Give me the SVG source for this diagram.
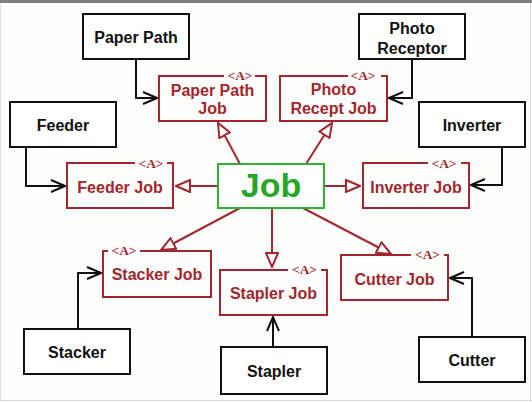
<svg xmlns="http://www.w3.org/2000/svg" width="532" height="402" viewBox="0 0 532 402">
  <style>
    .dev rect { fill: #ffffff; stroke: #111111; stroke-width: 2; }
    .dev text { fill: #111111; font: bold 16px "Liberation Sans", Arial, sans-serif; text-anchor: middle; }
    .job path { fill: none; stroke: #a3262f; stroke-width: 2; }
    .job text { fill: #a3262f; font: bold 16px "Liberation Sans", Arial, sans-serif; text-anchor: middle; }
    .job text.abs { font: bold 12px "Liberation Serif", "Times New Roman", serif; }
    .gen { fill: none; stroke: #a3262f; stroke-width: 2; marker-end: url(#tri); }
    .use { fill: none; stroke: #111111; stroke-width: 2; marker-end: url(#open); }
  </style>
  <defs>
    <marker id="tri" markerUnits="userSpaceOnUse" viewBox="0 0 16 14" refX="15" refY="7" markerWidth="16" markerHeight="14" orient="auto">
      <path d="M1,1 L15,7 L1,13 Z" fill="#ffffff" stroke="#a3262f" stroke-width="2" stroke-linejoin="miter"/>
    </marker>
    <marker id="open" markerUnits="userSpaceOnUse" viewBox="0 0 16 14" refX="15" refY="7" markerWidth="16" markerHeight="14" orient="auto">
      <path d="M1,1 L15,7 L1,13" fill="none" stroke="#111111" stroke-width="2"/>
    </marker>
  </defs>

  <!-- page -->
  <rect x="0" y="0" width="532" height="402" fill="#fefefc"/>
  <rect x="0" y="0" width="532" height="3" fill="#7f7f7f"/>
  <line x1="530.5" y1="3" x2="530.5" y2="402" stroke="#d8d8d8" stroke-width="1"/>
  <line x1="0" y1="400.5" x2="532" y2="400.5" stroke="#d8d8d8" stroke-width="1"/>
  <line x1="0.5" y1="3" x2="0.5" y2="402" stroke="#ecdede" stroke-width="1"/>

  <!-- connectors -->
  <g id="connectors">
    <path class="gen" d="M240,164 L218,123"/>
    <path class="gen" d="M306,164 L332,123"/>
    <path class="gen" d="M218,186 L176,186"/>
    <path class="gen" d="M324,186 L360,186"/>
    <path class="gen" d="M240,208 L161,250"/>
    <path class="gen" d="M272,208 L272,267"/>
    <path class="gen" d="M303,208 L391,254"/>

    <path class="use" d="M136,59 V98 H157"/>
    <path class="use" d="M26,147 V186 H65"/>
    <path class="use" d="M412,59 V98 H389"/>
    <path class="use" d="M502,147 V185 H471"/>
    <path class="use" d="M78,329 V273 H101"/>
    <path class="use" d="M273,347 V317"/>
    <path class="use" d="M472,337 V278 H450"/>
  </g>

  <!-- central job -->
  <g id="job">
    <rect x="218" y="164" width="106" height="44" fill="#ffffff" stroke="#2fb22f" stroke-width="2"/>
    <text x="271" y="197" fill="#25a825" font-family="Liberation Sans, Arial, sans-serif" font-weight="bold" font-size="34" text-anchor="middle">Job</text>
  </g>

  <!-- abstract job classes -->
  <g id="paper-path-job" class="job">
    <path d="M255,76 H266 V121 H159 V76 H224"/>
    <text class="abs" x="240" y="80" textLength="25" lengthAdjust="spacingAndGlyphs">&lt;A&gt;</text>
    <text x="212.5" y="96">Paper Path</text>
    <text x="212.5" y="114">Job</text>
  </g>
  <g id="photo-recept-job" class="job">
    <path d="M381,76 H387 V121 H280 V76 H348"/>
    <text class="abs" x="363" y="80" textLength="25" lengthAdjust="spacingAndGlyphs">&lt;A&gt;</text>
    <text x="333.5" y="95">Photo</text>
    <text x="333.5" y="114">Recept Job</text>
  </g>
  <g id="feeder-job" class="job">
    <path d="M167,163 H173 V208 H67 V163 H135"/>
    <text class="abs" x="151" y="168" textLength="25" lengthAdjust="spacingAndGlyphs">&lt;A&gt;</text>
    <text x="120" y="193">Feeder Job</text>
  </g>
  <g id="inverter-job" class="job">
    <path d="M461,163 H469 V208 H363 V163 H428"/>
    <text class="abs" x="444" y="168" textLength="25" lengthAdjust="spacingAndGlyphs">&lt;A&gt;</text>
    <text x="416" y="193">Inverter Job</text>
  </g>
  <g id="stacker-job" class="job">
    <path d="M140,251 H211 V297 H103 V251 H108"/>
    <text class="abs" x="124" y="255" textLength="25" lengthAdjust="spacingAndGlyphs">&lt;A&gt;</text>
    <text x="157" y="280">Stacker Job</text>
  </g>
  <g id="stapler-job" class="job">
    <path d="M321,270 H327 V315 H220 V270 H288"/>
    <text class="abs" x="304.5" y="274" textLength="25" lengthAdjust="spacingAndGlyphs">&lt;A&gt;</text>
    <text x="273.5" y="299">Stapler Job</text>
  </g>
  <g id="cutter-job" class="job">
    <path d="M444,255 H448 V300 H341 V255 H411"/>
    <text class="abs" x="427.5" y="259" textLength="25" lengthAdjust="spacingAndGlyphs">&lt;A&gt;</text>
    <text x="394.5" y="285">Cutter Job</text>
  </g>

  <!-- devices -->
  <g id="paper-path" class="dev">
    <rect x="83" y="14" width="106" height="45"/>
    <text x="136" y="43">Paper Path</text>
  </g>
  <g id="photo-receptor" class="dev">
    <rect x="359" y="14" width="106" height="45"/>
    <text x="412" y="33.5">Photo</text>
    <text x="412" y="53.5">Receptor</text>
  </g>
  <g id="feeder" class="dev">
    <rect x="10" y="102" width="106" height="45"/>
    <text x="63" y="131">Feeder</text>
  </g>
  <g id="inverter" class="dev">
    <rect x="419" y="102" width="106" height="45"/>
    <text x="472" y="131">Inverter</text>
  </g>
  <g id="stacker" class="dev">
    <rect x="24" y="329" width="106" height="45"/>
    <text x="77" y="358">Stacker</text>
  </g>
  <g id="stapler" class="dev">
    <rect x="221" y="347" width="106" height="47"/>
    <text x="274" y="377">Stapler</text>
  </g>
  <g id="cutter" class="dev">
    <rect x="419" y="337" width="106" height="45"/>
    <text x="472" y="366">Cutter</text>
  </g>
</svg>
